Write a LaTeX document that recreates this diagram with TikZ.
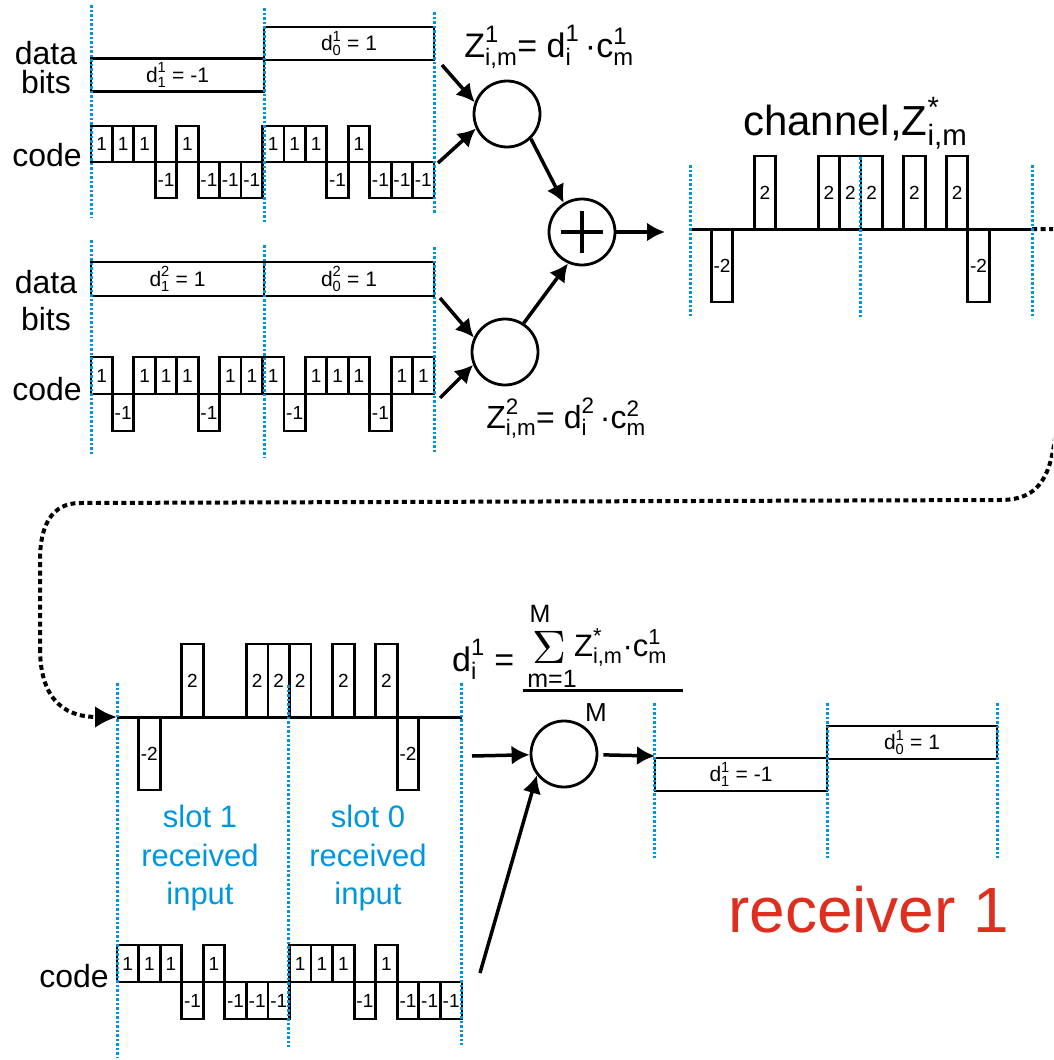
\RequirePackage{fix-cm}
\documentclass[tikz,border=0pt]{standalone}
\usepackage{amsmath}
\usepackage{fontspec}
\setmainfont{Liberation Sans}
\newfontfamily\lmfont{lmroman10-regular}[Extension=.otf]
\usetikzlibrary{arrows.meta,shapes.geometric,positioning}
\definecolor{slotblue}{RGB}{0,150,222}
\definecolor{rxred}{RGB}{222,46,30}
\newcommand\sym[3]{\ensuremath{\text{#1}^{\text{#2}}_{\text{#3}}}}

\begin{document}
\begin{tikzpicture}[x=1pt, y=-1pt,
    every node/.style={inner sep=0},
    chip/.style={draw, line width=2.8},
    chipnum/.style={font=\fontsize{19}{20}\selectfont},
    bitbox/.style={draw, line width=2.8, minimum height=33, font=\fontsize{21}{24}\selectfont},
    lbl/.style={anchor=base, font=\fontsize{32}{36}\selectfont},
    eqn/.style={anchor=base, font=\fontsize{34}{38}\selectfont},
    slotlbl/.style={anchor=base, text=slotblue, font=\fontsize{31}{38}\selectfont},
    bline/.style={draw=slotblue, line width=3, dash pattern=on 2.5pt off 2pt},
    mult/.style={draw, circle, line width=2.8, minimum size=66},
    arr/.style={line width=3.5, -{Latex[length=18pt,width=19pt]}},
    wire/.style={line width=4, dash pattern=on 5pt off 3.5pt}
  ]
  \useasboundingbox (0,0) rectangle (1053,1060);
  \clip (0,0) rectangle (1053,1060);

  % sender 1
  \node[lbl] (data1) at (46,64) {data};
  \node[below=29pt of data1.base, lbl] (bits1) {bits};
  \node[lbl] (code1) at (47,166) {code};
  \node[bitbox, minimum width=173] (d11) at (177.5,75) {\sym{d}{1}{1} = -1};
  \node[bitbox, minimum width=170] (d10) at (349,43.5) {\sym{d}{1}{0} = 1};
  \foreach \v [count=\k from 0] in {1,1,1,-1,1,-1,-1,-1,1,1,1,-1,1,-1,-1,-1} {
    \draw[chip] ({91+21.44*\k},162) rectangle ({112.44+21.44*\k},{162-36*(\v)});
    \node[chipnum] at ({101.72+21.44*\k},{162-18*(\v)}) {\v};
  }

  % sender 2
  \node[lbl] (data2) at (46,293) {data};
  \node[below=37pt of data2.base, lbl] (bits2) {bits};
  \node[lbl] (code2) at (47,400) {code};
  \node[bitbox, minimum width=173, minimum height=34] (d21) at (177.5,279) {\sym{d}{2}{1} = 1};
  \node[bitbox, minimum width=170, minimum height=34] (d20) at (349,279) {\sym{d}{2}{0} = 1};
  \foreach \v [count=\k from 0] in {1,-1,1,1,1,-1,1,1,1,-1,1,1,1,-1,1,1} {
    \draw[chip] ({91+21.44*\k},394) rectangle ({112.44+21.44*\k},{394-37*(\v)});
    \node[chipnum] at ({101.72+21.44*\k},{394-18.5*(\v)}) {\v};
  }

  % multipliers and sum
  \node[mult] (c1) at (507,114) {};
  \node[mult] (c2) at (505,352) {};
  \node[mult] (plus) at (582,232) {};
  \draw[line width=4] ([xshift=-21pt]plus.center) -- ([xshift=21pt]plus.center);
  \draw[line width=4] ([yshift=21pt]plus.center) -- ([yshift=-21pt]plus.center);
  \node[eqn] (z1) at (549,57) {\sym{Z}{1}{i,m}= \sym{d}{1}{i}\,·\sym{c}{1}{m}};
  \node[eqn, font=\fontsize{32}{36}\selectfont] (z2) at (566,428) {\sym{Z}{2}{i,m}= \sym{d}{2}{i}\,·\sym{c}{2}{m}};

  \coordinate (s1a) at (442,65);
  \coordinate (s1b) at (438,163);
  \coordinate (s2a) at (440,298);
  \coordinate (s2b) at (440,398);
  \coordinate (chin) at (665,232);
  \draw[arr] (s1a) -- (c1.160);
  \draw[arr] (s1b) -- (c1.205);
  \draw[arr] (s2a) -- (c2.155);
  \draw[arr] (s2b) -- (c2.202);
  \draw[arr] (c1.314) -- (plus.122);
  \draw[arr] (c2.57) -- (plus.246);
  \draw[arr] (plus) -- (chin);

  % channel
  \node[anchor=base west, font=\fontsize{42}{46}\selectfont] (chlbl) at (743,135) {channel,\sym{Z}{*}{i,m}};
  \coordinate (chstart) at (690,229);
  \coordinate (chend) at (1032,229);
  \draw[line width=3] (chstart) -- (chend);
  \foreach \v [count=\k from 0] in {0,-2,0,2,0,0,2,2,2,0,2,0,2,-2,0,0} {
    \ifnum\v=0\relax\else
      \draw[chip] ({690+21.375*\k},229) rectangle ({711.375+21.375*\k},{229-36.5*(\v)});
      \node[chipnum] at ({700.69+21.375*\k},{229-18.25*(\v)}) {\v};
    \fi
  }

  % received signal
  \coordinate (rxin) at (117,717);
  \coordinate (rxend) at (462,717);
  \draw[line width=3] (rxin) -- (rxend);
  \foreach \v [count=\k from 0] in {0,-2,0,2,0,0,2,2,2,0,2,0,2,-2,0,0} {
    \ifnum\v=0\relax\else
      \draw[chip] ({117+21.56*\k},717) rectangle ({138.56+21.56*\k},{717-36.5*(\v)});
      \node[chipnum] at ({127.78+21.56*\k},{717-18.25*(\v)}) {\v};
    \fi
  }
  \draw[wire] (chend) -- (1080,229) .. controls (1110,229) and (1058,350) .. (1058,400)
    .. controls (1055,470) and (1045,500) .. (1000,500) -- (80,503)
    .. controls (52,503) and (40,525) .. (40,560) -- (40,650);
  \draw[wire, -{Latex[length=22pt,width=22pt]}] (40,648) .. controls (40,705) and (70,717) .. (rxin);

  \node[slotlbl] (sl1a) at (200,827) {slot 1};
  \node[below=39pt of sl1a.base, slotlbl] (sl1b) {received};
  \node[below=38pt of sl1b.base, slotlbl] (sl1c) {input};
  \node[slotlbl] (sl0a) at (368,827) {slot 0};
  \node[below=39pt of sl0a.base, slotlbl] (sl0b) {received};
  \node[below=38pt of sl0b.base, slotlbl] (sl0c) {input};

  % receiver code
  \node[lbl] (code3) at (74,987) {code};
  \foreach \v [count=\k from 0] in {1,1,1,-1,1,-1,-1,-1,1,1,1,-1,1,-1,-1,-1} {
    \draw[chip] ({117+21.56*\k},982) rectangle ({138.56+21.56*\k},{982-37*(\v)});
    \node[chipnum] at ({127.78+21.56*\k},{982-18.5*(\v)}) {\v};
  }

  % receiver
  \node[mult] (rcv) at (564,754) {};
  \node[anchor=base west, font=\fontsize{34}{38}\selectfont] (dform) at (452,671) {\sym{d}{1}{i} =};
  \node[anchor=base, font=\fontsize{47}{50}\lmfont] (sigma) at (549,663) {Σ};
  \node[anchor=base, font=\fontsize{25}{26}\selectfont] (mtop) at (540,622) {M};
  \node[anchor=base, font=\fontsize{25}{26}\selectfont] (mbot) at (552,687) {m=1};
  \node[anchor=base west, font=\fontsize{31}{34}\selectfont] (zterm) at (574,656) {\sym{Z}{*}{i,m}·\sym{c}{1}{m}};
  \coordinate (barl) at (523,690);
  \coordinate (barr) at (683,690);
  \draw[line width=3] (barl) -- (barr);
  \node[anchor=base, font=\fontsize{26}{28}\selectfont] (mden) at (596,721) {M};

  \coordinate (rxout) at (472,756);
  \coordinate (outin) at (655,756);
  \coordinate (rcode) at (480,973);
  \draw[arr] (rxout) -- (rcv);
  \draw[arr, shorten <=5pt] (rcv) -- (outin);
  \draw[arr] (rcode) -- (rcv.218);

  \node[bitbox, minimum width=172] (o1) at (741,774.5) {\sym{d}{1}{1} = -1};
  \node[bitbox, minimum width=170] (o0) at (912,742.5) {\sym{d}{1}{0} = 1};
  \node[anchor=base west, text=rxred, font=\fontsize{64}{70}\selectfont] (rxname) at (728,932) {receiver 1};

  % slot boundaries
  \foreach \x/\ya/\yb in {91/5/218, 264/8/222, 434/12/214, 91/240/455, 264/245/458, 434/247/452,
      690/165/318, 860/157/318, 1032/165/318, 117/683/1057, 288/685/1047, 461/683/1045,
      654/703/858, 827/703/858, 997/703/858}
    \draw[bline] (\x,\ya) -- (\x,\yb);
\end{tikzpicture}
\end{document}
